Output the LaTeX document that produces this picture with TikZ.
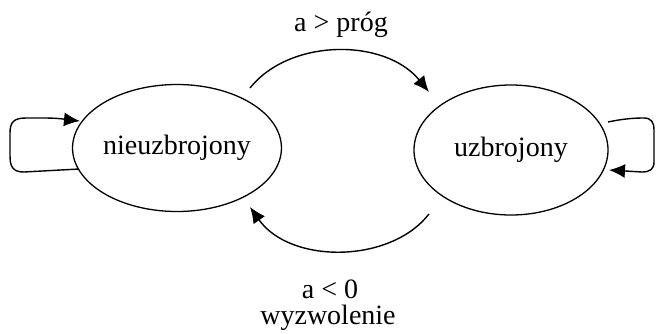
\documentclass[tikz,border=0pt]{standalone}
\usepackage{fontspec}
\setmainfont{Liberation Serif}
\usetikzlibrary{shapes.geometric,arrows.meta}
\begin{document}
\begin{tikzpicture}[x=1pt,y=1pt,
  state/.style={draw,ellipse,line width=1.3pt,inner sep=0pt,font=\fontsize{28}{31}\selectfont},
  lbl/.style={font=\fontsize{28}{31}\selectfont,inner sep=0pt},
  conn/.style={line width=1.4pt,-{Latex[length=16pt,width=14pt]}}]
\useasboundingbox (0,0) rectangle (656,-333);
\node[state,minimum width=192pt,minimum height=127pt] (L) at (177,-148) {nieuzbrojony};
\node[state,minimum width=194pt,minimum height=130pt] (R) at (511,-150) {uzbrojony};
\node[lbl] (t1) at (341,-25) {a > próg};
\node[lbl] (t2) at (330,-289) {a < 0};
\node[lbl] (t3) at (328,-318) {wyzwolenie};
\coordinate (a1) at (250,-88);
\coordinate (a2) at (429,-92);
\coordinate (b1) at (429,-214);
\coordinate (b2) at (250,-207);
\coordinate (l1) at (79,-169);
\coordinate (l2) at (80,-121);
\coordinate (r1) at (608,-122);
\coordinate (r2) at (609,-170);
\draw[conn] (l1) -- (24,-172) .. controls (12,-172) and (10,-166) .. (10,-155)
  -- (10,-133) .. controls (10,-122) and (14,-118) .. (26,-118) -- (45,-118) .. controls (60,-118) and (70,-120) .. (l2);
\draw[conn] (a1) .. controls (290,-38) and (385,-38) .. (a2);
\draw[conn] (b1) .. controls (390,-264) and (290,-264) .. (b2);
\draw[conn] (r1) .. controls (622,-119) and (633,-118) .. (644,-118) .. controls (651,-118) and (654,-122) .. (654,-130)
  -- (654,-162) .. controls (654,-169) and (650,-172) .. (642,-172) -- (r2);
\end{tikzpicture}
\end{document}
